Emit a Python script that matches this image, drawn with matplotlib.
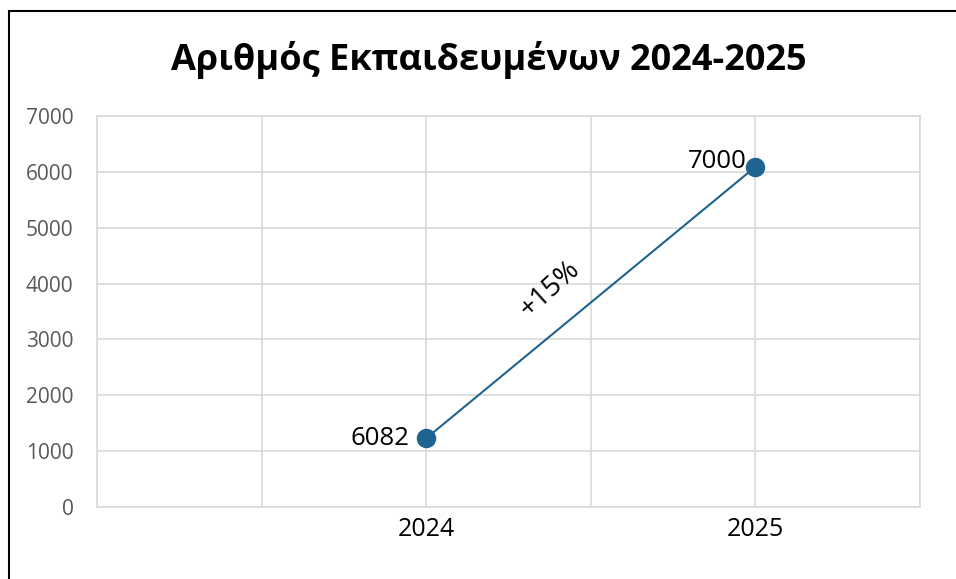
import matplotlib
matplotlib.use("Agg")
import matplotlib.pyplot as plt
from matplotlib.patches import Rectangle

title = "Αριθμός Εκπαιδευμένων 2024-2025"
years = ["2024", "2025"]
x_pos = [2, 4]
values = [1230, 6090]
labels = ["6082", "7000"]
change_label = "+15%"
y_ticks = [0, 1000, 2000, 3000, 4000, 5000, 6000, 7000]

plt.rcParams['font.family'] = ['Open Sans', 'DejaVu Sans']

fig = plt.figure(figsize=(9.56, 5.79), dpi=100)
fig.patch.set_facecolor("white")
fig.patches.append(Rectangle((8.5/956, -0.1), 1.2, 1 - 10.5/579 + 0.1, transform=fig.transFigure,
                             fill=False, edgecolor="black", linewidth=1.5))

ax = fig.add_axes([97/956, 1 - 507/579, (920 - 97)/956, (507 - 116)/579])
ax.set_xlim(0, 5)
ax.set_ylim(0, 7000)
ax.set_yticks(y_ticks)
ax.set_yticklabels([str(v) for v in y_ticks])
ax.set_xticks([0, 1, 2, 3, 4, 5])
ax.set_xticklabels(["", "", years[0], "", years[1], ""])
ax.grid(True, color="#d9d9d9", linewidth=1.2)
ax.set_axisbelow(True)
for s in ax.spines.values():
    s.set_color("#d9d9d9")
    s.set_linewidth(1.2)
ax.tick_params(axis="both", length=0)
ax.tick_params(axis="y", labelsize=15, labelcolor="#595959", pad=17)
ax.tick_params(axis="x", labelsize=18, labelcolor="black", pad=7)

ax.plot(x_pos, values, color="#1f6391", linewidth=1.5, marker="o", markersize=13,
        markerfacecolor="#1f6391", markeredgecolor="#1f6391", zorder=3)

ax.annotate(labels[0], (x_pos[0], values[0]), xytext=(-12, 0), textcoords="offset points",
            ha="right", va="center", fontsize=18.5, color="black")
ax.annotate(labels[1], (x_pos[1], values[1]), xytext=(-6, 4), textcoords="offset points",
            ha="right", va="center", fontsize=18.5, color="black")
ax.text(2.75, 3900, change_label, rotation=42, ha="center", va="center", fontsize=20, color="black")

fig.text(489/956, 1 - 60/579, title, ha="center", va="center", fontsize=26, fontweight="bold")

fig.savefig("out.png", dpi=100)
